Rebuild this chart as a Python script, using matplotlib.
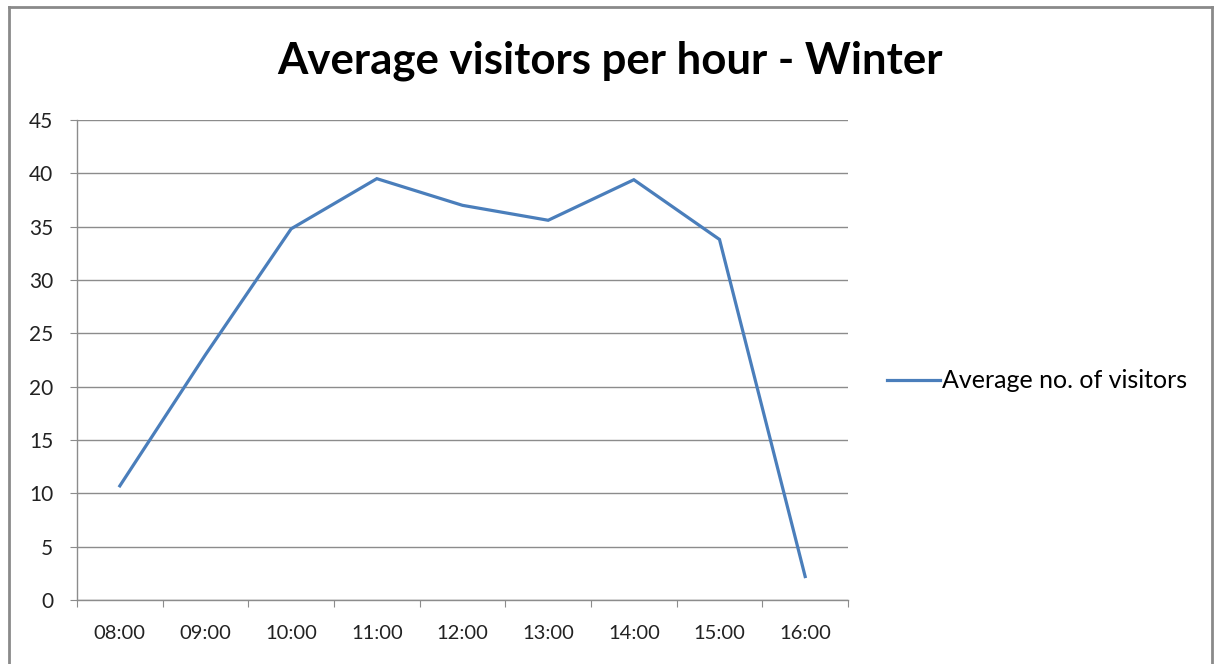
import numpy as np
import matplotlib
matplotlib.use("Agg")
import matplotlib.pyplot as plt
from matplotlib.lines import Line2D

hours = ["08:00", "09:00", "10:00", "11:00", "12:00", "13:00", "14:00", "15:00", "16:00"]
visitors = [10.7, 23.0, 34.8, 39.5, 37.0, 35.6, 39.4, 33.8, 2.2]
series_name = "Average no. of visitors"
title = "Average visitors per hour - Winter"

W, H = 1218, 664
plt.rcParams['font.family'] = ['Lato', 'DejaVu Sans']

fig = plt.figure(figsize=(W / 100, H / 100), dpi=100)
ax = fig.add_axes([77 / W, (H - 600) / H, (848 - 77) / W, 480 / H])

x = np.arange(len(hours))
ax.plot(x, visitors, color="#4A7EBB", lw=2.3, label=series_name, solid_joinstyle="miter")

ax.set_xlim(-0.5, len(hours) - 0.5)
ax.set_ylim(0, 45)
ax.set_yticks(np.arange(0, 46, 5))
ax.set_xticks(np.arange(-0.5, len(hours), 1))
ax.set_xticklabels([])
ax.set_xticks(x, minor=True)
ax.set_xticklabels(hours, minor=True)

grid_c = "#8c8c8c"
ax.yaxis.grid(True, color=grid_c, lw=1)
ax.set_axisbelow(True)
for s in ["top", "right"]:
    ax.spines[s].set_visible(False)
for s in ["left", "bottom"]:
    ax.spines[s].set_color(grid_c)
    ax.spines[s].set_linewidth(1)

ax.tick_params(axis="y", which="major", length=5, color=grid_c, pad=12, labelsize=15, labelcolor="#222222")
ax.tick_params(axis="x", which="major", length=5, color=grid_c)
ax.tick_params(axis="x", which="minor", length=0, pad=18, labelsize=14.5, labelcolor="#222222")

fig.text(610 / W, (H - 61) / H, title, ha="center", va="center", fontsize=31.5, fontweight="bold")

fig.legend(loc="center left", bbox_to_anchor=(887 / W, (H - 381) / H), frameon=False,
           fontsize=18, handlelength=2.1, handletextpad=0.1, borderpad=0, borderaxespad=0)

# chart frame
fc = "#8a8a8a"
fig.add_artist(Line2D([8.5 / W, 8.5 / W], [0, (H - 6.5) / H], color=fc, lw=2, transform=fig.transFigure))
fig.add_artist(Line2D([8.5 / W, 1211.5 / W], [(H - 6.5) / H, (H - 6.5) / H], color=fc, lw=2, transform=fig.transFigure))
fig.add_artist(Line2D([1211.5 / W, 1211.5 / W], [0, (H - 6.5) / H], color=fc, lw=2, transform=fig.transFigure))

fig.savefig("out.png", dpi=100)
